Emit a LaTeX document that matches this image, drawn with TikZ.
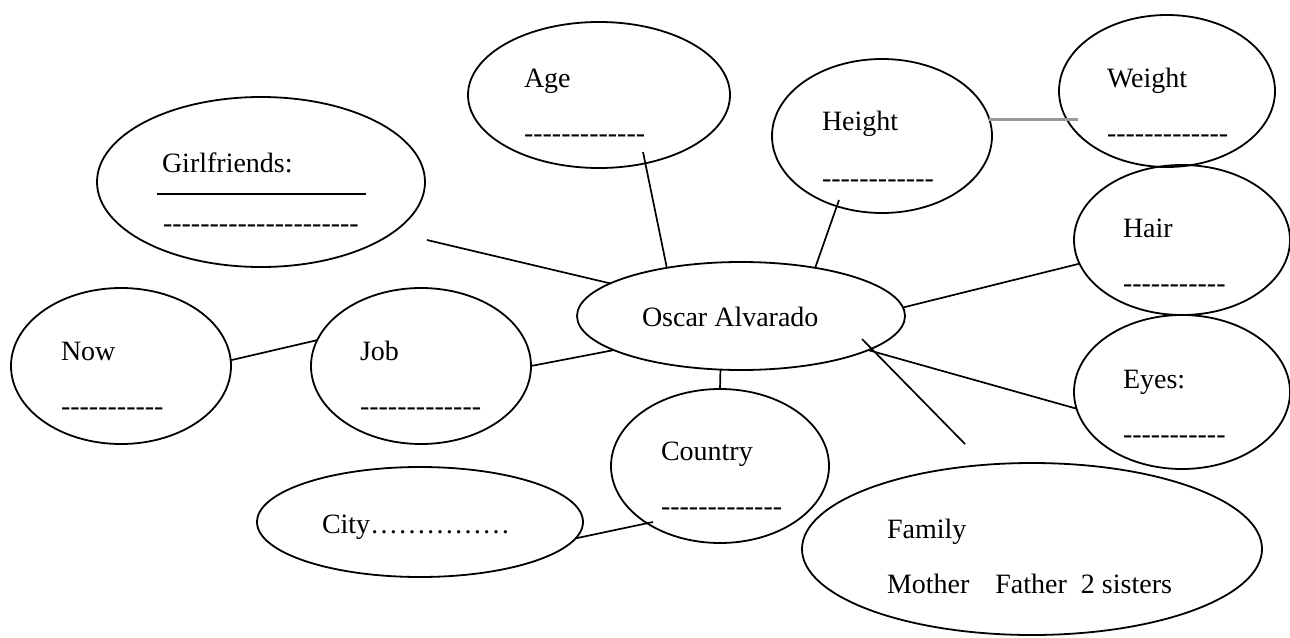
\documentclass[tikz,border=0pt]{standalone}
\usepackage{fontspec}
\setmainfont{Liberation Serif}
\usetikzlibrary{shapes.geometric}
\newcommand\hyrow[1]{\foreach\k in {1,...,#1}{\hbox{-}}}
\tikzset{
  bubble/.style={ellipse, draw, line width=1.8pt, inner sep=0pt, outer sep=0pt},
  lbl/.style={anchor=base west, inner sep=0pt, outer sep=0pt, font=\fontsize{28}{34}\selectfont},
  link/.style={line width=1.7pt},
  greylink/.style={line width=3pt, draw=black!40}
}
\begin{document}
\begin{tikzpicture}[x=1pt,y=-1pt]
\useasboundingbox (0,0) rectangle (1290,637);
% bubbles
\node[bubble, minimum width=328pt, minimum height=170pt] (girl) at (261,182) {};
\node[bubble, minimum width=262pt, minimum height=146pt] (age) at (599,95) {};
\node[bubble, minimum width=220pt, minimum height=154pt] (height) at (882,136) {};
\node[bubble, minimum width=216pt, minimum height=152pt] (weight) at (1167,91) {};
\node[bubble, minimum width=216pt, minimum height=150pt] (hair) at (1182,240) {};
\node[bubble, minimum width=216pt, minimum height=154pt] (eyes) at (1182,392) {};
\node[bubble, minimum width=328pt, minimum height=108pt] (oscar) at (741,316) {};
\node[bubble, minimum width=220pt, minimum height=156pt] (now) at (121,366) {};
\node[bubble, minimum width=220pt, minimum height=156pt] (job) at (421,366) {};
\node[bubble, minimum width=218pt, minimum height=154pt] (country) at (720,466) {};
\node[bubble, minimum width=326pt, minimum height=110pt] (city) at (420,522) {};
\node[bubble, minimum width=460pt, minimum height=172pt] (family) at (1032,549) {};
% texts
\node[lbl] (girlT) at (162,172) {Girlfriends:};
\draw[line width=2pt] (157,194) -- (366,194);
\node[lbl] (girlD) at (163,232) {\hyrow{21}};
\node[lbl] (ageT) at (524,87) {Age};
\node[lbl] (ageD) at (524,142) {\hyrow{13}};
\node[lbl] (heightT) at (822,130) {Height};
\node[lbl] (heightD) at (822,187) {\hyrow{12}};
\node[lbl] (weightT) at (1107,87) {Weight};
\node[lbl] (weightD) at (1107,142) {\hyrow{13}};
\node[lbl] (hairT) at (1123,237) {Hair};
\node[lbl] (hairD) at (1123,292) {\hyrow{11}};
\node[lbl] (eyesT) at (1123,388) {Eyes:};
\node[lbl] (eyesD) at (1123,443) {\hyrow{11}};
\node[lbl] (oscarT) at (642,326) {Oscar Alvarado};
\node[lbl] (nowT) at (61,360) {Now};
\node[lbl] (nowD) at (61,415) {\hyrow{11}};
\node[lbl] (jobT) at (360,360) {Job};
\node[lbl] (jobD) at (360,415) {\hyrow{13}};
\node[lbl] (countryT) at (661,460) {Country};
\node[lbl] (countryD) at (661,515) {\hyrow{13}};
\node[lbl] (cityT) at (322,533) {City……………};
\node[lbl] (familyT) at (887,538) {Family};
\node[lbl] (familyM) at (887,593) {Mother\hspace{26pt}Father\hspace{14pt}2 sisters};
% free ends
\coordinate (g1) at (427,240);
\coordinate (a1) at (643,152);
\coordinate (h1) at (839,200);
\coordinate (w1) at (1078,117);
\coordinate (f1) at (862,339);
\coordinate (f2) at (965,444);
\coordinate (c1) at (653,522);
% connectors
\draw[link] (g1) -- (oscar.166.8);
\draw[link] (a1) -- (oscar.147.5);
\draw[link] (h1) -- (oscar.33.5);
\draw[greylink] (height.9.8) -- (height.9.8 -| w1);
\draw[link] (oscar.3.9) -- (hair.193.7);
\draw[link] (oscar.-15.7) -- (eyes.189.7);
\draw[link] (f1) -- (f2);
\draw[link] (oscar.-111) -- (country.north);
\draw[link] (job.east) -- (oscar.-165.2);
\draw[link] (now.3) -- (job.166.6);
\draw[link] (city.-6.4) -- (c1);
\end{tikzpicture}
\end{document}
